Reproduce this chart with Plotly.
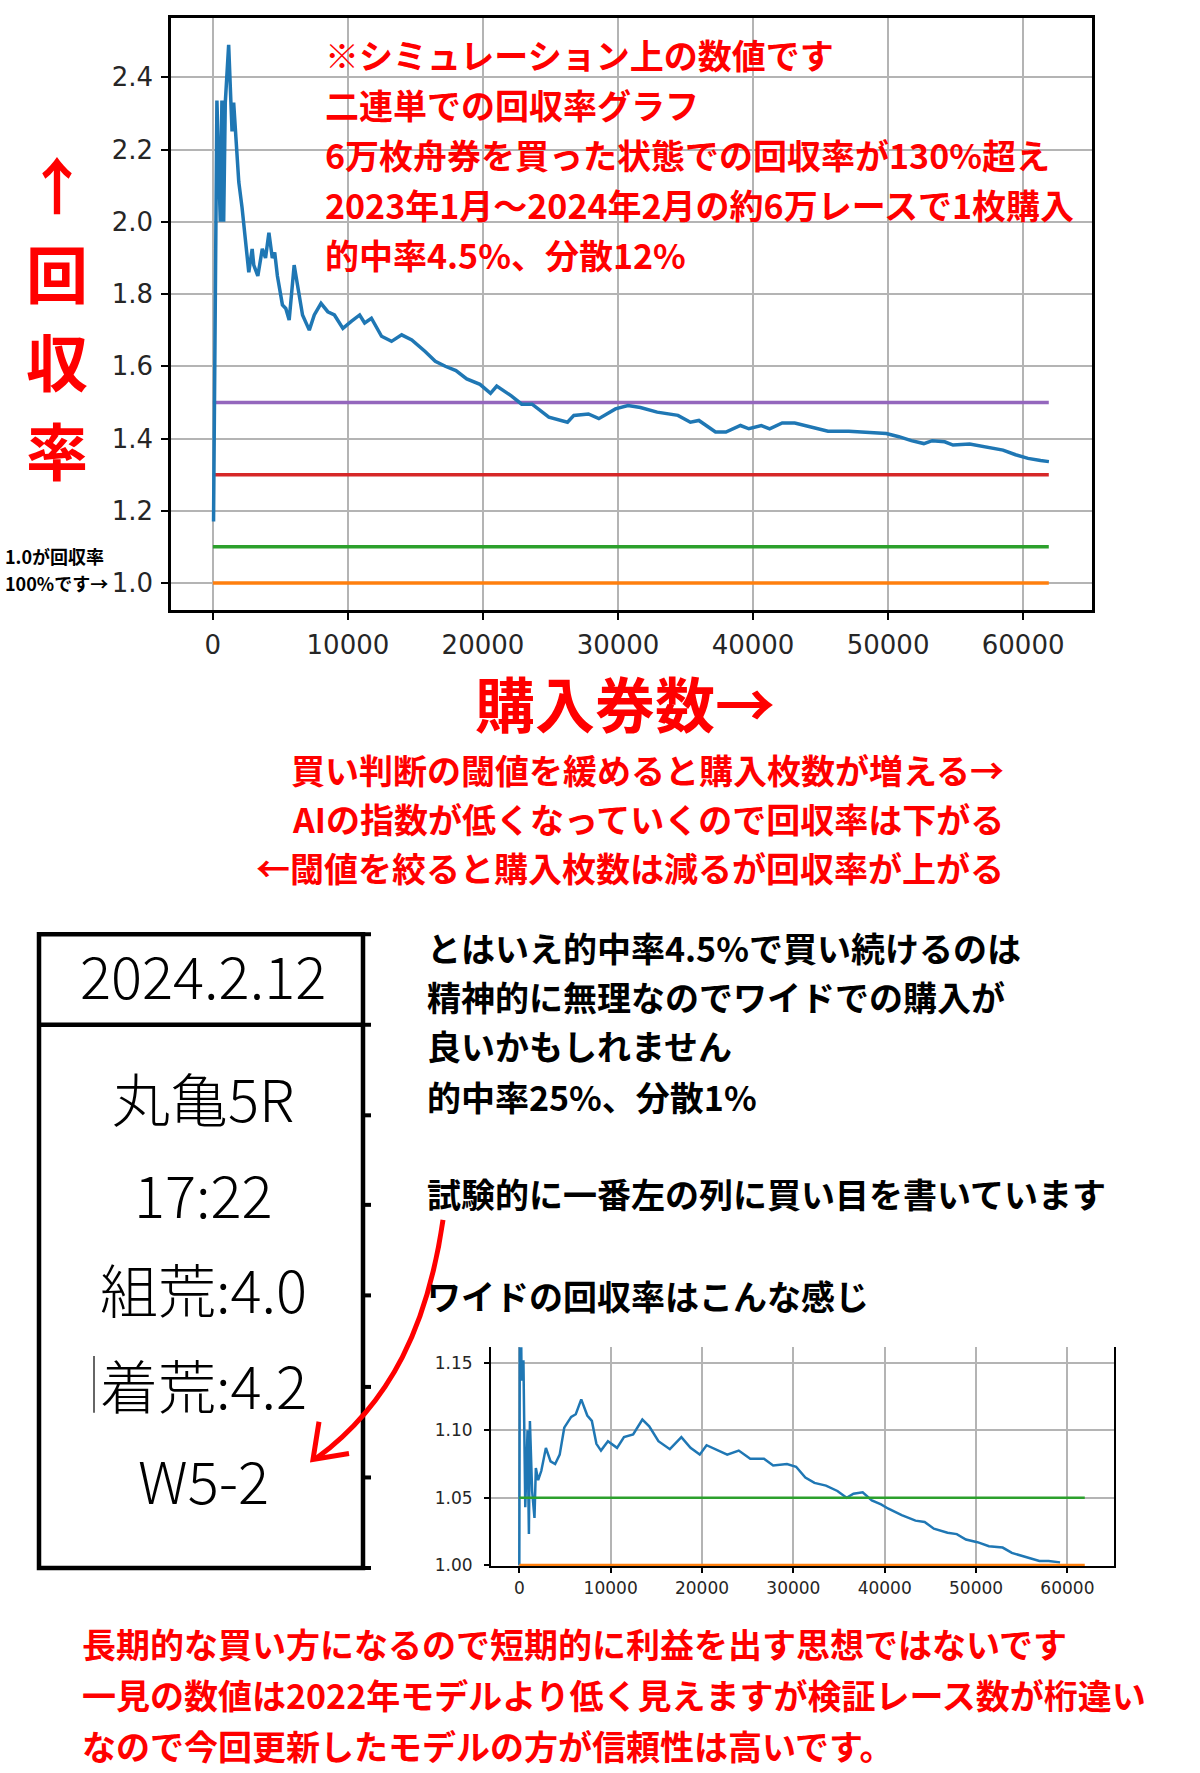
import plotly.graph_objects as go

# ---------------- data ----------------
main_x = [50, 300, 550, 670, 800, 920, 1170, 1290, 1420, 1540, 1670, 1920, 2160, 2660, 2910, 3030,
          3330, 3660, 3900, 4150, 4400, 4580, 4780, 5150, 5400, 5650, 6020, 6270, 6640, 7140, 7510,
          8010, 8510, 9000, 9630, 10250, 10870, 11240, 11740, 12490, 13230, 13980, 14730, 15720,
          16470, 17210, 18000, 18800, 19780, 20560, 21020, 22100, 22870, 23640, 24880, 26260,
          26730, 27810, 28580, 29810, 30740, 31660, 32900, 34440, 35360, 35990, 37220, 37990,
          39070, 39690, 40610, 41230, 42160, 43090, 44320, 45550, 47100, 48330, 49870, 50800,
          51720, 52650, 53270, 54190, 54810, 56040, 57590, 58510, 59440, 60360, 61290, 61910]
main_y = [1.17, 2.336, 2.0, 2.336, 2.0, 2.33, 2.49, 2.345, 2.25, 2.33, 2.25, 2.11, 2.04, 1.86, 1.925,
          1.88, 1.85, 1.925, 1.90, 1.97, 1.90, 1.915, 1.85, 1.77, 1.76, 1.728, 1.88, 1.824, 1.742,
          1.70, 1.742, 1.774, 1.751, 1.742, 1.705, 1.724, 1.742, 1.72, 1.733, 1.683, 1.669, 1.687,
          1.673, 1.641, 1.614, 1.60, 1.588, 1.565, 1.55, 1.525, 1.545, 1.518, 1.495, 1.495, 1.459,
          1.445, 1.464, 1.468, 1.455, 1.482, 1.491, 1.486, 1.473, 1.464, 1.445, 1.45, 1.418, 1.418,
          1.436, 1.427, 1.436, 1.427, 1.443, 1.443, 1.432, 1.42, 1.42, 1.418, 1.414, 1.405, 1.394,
          1.386, 1.394, 1.391, 1.382, 1.385, 1.375, 1.368, 1.355, 1.345, 1.339, 1.336]
main_ref_levels = [1.5, 1.3, 1.1, 1.0]
main_ref_colors = ["#9467bd", "#d62728", "#2ca02c", "#ff7f0e"]
ref_x = [0, 61900]

wide_x = [0, 80, 250, 450, 650, 900, 1050, 1160, 1400, 1660, 1810, 2060, 2410, 2910, 3420, 3920,
          4420, 4920, 5680, 6180, 6780, 7440, 7940, 8440, 8940, 9700, 10700, 11460, 12460, 13470,
          14220, 15230, 16480, 17740, 18740, 19750, 20500, 21760, 22760, 24020, 25280, 26780,
          27790, 29300, 30300, 31310, 32310, 33570, 34820, 35830, 36580, 37590, 38590, 39600,
          40350, 41860, 43370, 44370, 45380, 46880, 47890, 48890, 50150, 51410, 52910, 53920,
          54920, 55930, 56930, 57940, 59200]
wide_y = [1.0, 1.25, 1.137, 1.152, 1.043, 1.10, 1.023, 1.107, 1.055, 1.035, 1.072, 1.063, 1.07,
          1.087, 1.077, 1.075, 1.082, 1.102, 1.11, 1.112, 1.123, 1.111, 1.107, 1.09, 1.085, 1.092,
          1.087, 1.095, 1.097, 1.108, 1.103, 1.092, 1.086, 1.095, 1.087, 1.082, 1.089, 1.085, 1.082,
          1.085, 1.079, 1.079, 1.074, 1.075, 1.073, 1.065, 1.061, 1.059, 1.055, 1.05, 1.053, 1.054,
          1.048, 1.045, 1.042, 1.037, 1.033, 1.032, 1.027, 1.024, 1.023, 1.019, 1.017, 1.014,
          1.013, 1.009, 1.007, 1.005, 1.003, 1.003, 1.002]
wide_ref_levels = [1.05, 1.0]
wide_ref_colors = ["#2ca02c", "#ff7f0e"]

x_tick_vals = [0, 10000, 20000, 30000, 40000, 50000, 60000]
x_tick_text = ["0", "10000", "20000", "30000", "40000", "50000", "60000"]
main_y_ticks = [1.0, 1.2, 1.4, 1.6, 1.8, 2.0, 2.2, 2.4]
main_y_text = ["1.0", "1.2", "1.4", "1.6", "1.8", "2.0", "2.2", "2.4"]
wide_y_ticks = [1.00, 1.05, 1.10, 1.15]
wide_y_text = ["1.00", "1.05", "1.10", "1.15"]

chart_notes = ["※シミュレーション上の数値です", "二連単での回収率グラフ",
               "6万枚舟券を買った状態での回収率が130%超え",
               "2023年1月～2024年2月の約6万レースで1枚購入", "的中率4.5%、分散12%"]
y_title_chars = ["↑", "回", "収", "率"]
y_note = ["1.0が回収率", "100%です→"]
x_title = "購入券数→"
threshold_notes = ["買い判断の閾値を緩めると購入枚数が増える→", "AIの指数が低くなっていくので回収率は下がる",
                   "←閾値を絞ると購入枚数は減るが回収率が上がる"]
table_header = "2024.2.12"
table_rows = ["丸亀5R", "17:22", "組荒:4.0", "着荒:4.2", "W5-2"]
side_notes = ["とはいえ的中率4.5%で買い続けるのは", "精神的に無理なのでワイドでの購入が", "良いかもしれません",
              "的中率25%、分散1%", "試験的に一番左の列に買い目を書いています", "ワイドの回収率はこんな感じ"]
bottom_notes = ["長期的な買い方になるので短期的に利益を出す思想ではないです",
                "一見の数値は2022年モデルより低く見えますが検証レース数が桁違い",
                "なので今回更新したモデルの方が信頼性は高いです。"]

# ---------------- layout helpers ----------------
W, H = 1200, 1773
def fx(px):
    return px / W
def fy(py):
    return 1 - py / H

RED = "#ff0000"
JP = "Noto Sans CJK JP"
TICKFONT = "DejaVu Sans"

fig = go.Figure()

# main chart traces
for lvl, col in zip(main_ref_levels, main_ref_colors):
    fig.add_trace(go.Scatter(x=ref_x, y=[lvl, lvl], mode="lines",
                             line=dict(color=col, width=3.5), xaxis="x", yaxis="y"))
fig.add_trace(go.Scatter(x=main_x, y=main_y, mode="lines",
                         line=dict(color="#1f77b4", width=3.5), xaxis="x", yaxis="y"))

# wide chart traces
fig.add_trace(go.Scatter(x=wide_x, y=wide_y, mode="lines",
                         line=dict(color="#1f77b4", width=2.5), xaxis="x2", yaxis="y2"))
for lvl, col in zip(wide_ref_levels, wide_ref_colors):
    fig.add_trace(go.Scatter(x=ref_x, y=[lvl, lvl], mode="lines",
                             line=dict(color=col, width=2.5), xaxis="x2", yaxis="y2"))

ann = []
def add_text(text, px, py, size, color="black", xanchor="left", weight=700, family=JP):
    ann.append(dict(text=text, x=fx(px), y=fy(py), xref="paper", yref="paper",
                    xanchor=xanchor, yanchor="middle", showarrow=False,
                    font=dict(family=family, size=size, color=color, weight=weight)))

for i, t in enumerate(chart_notes):
    add_text(t, 323, 55 + i * 50.3, 34, RED)
for i, t in enumerate(y_title_chars):
    add_text(t, 57, 184 + i * 89, 62, RED, xanchor="center")
for i, t in enumerate(y_note):
    add_text(t, 3, 559 + i * 27, 18, "black")
add_text(x_title, 625, 705, 60, RED, xanchor="center")
for i, t in enumerate(threshold_notes):
    add_text(t, 1006, 773 + i * 49.5, 34, RED, xanchor="right")
add_text(table_header, 203, 979, 58, "black", xanchor="center", weight=300)
for i, t in enumerate(table_rows):
    add_text(t, 203, 1103 + i * 96, 58, "black", xanchor="center", weight=300)
side_y = [952, 1002, 1051, 1102, 1200, 1302]
for t, yy in zip(side_notes, side_y):
    add_text(t, 425, yy, 34, "black")
for i, t in enumerate(bottom_notes):
    add_text(t, 80, 1652 + i * 51, 34, RED)

shapes = []
# table
T_TOP, T_DIV, T_BOT = 939, 1030, 1576
shapes.append(dict(type="rect", xref="paper", yref="paper", x0=fx(39), x1=fx(363), y0=fy(T_TOP), y1=fy(T_BOT),
                   line=dict(color="black", width=4.5)))
shapes.append(dict(type="line", xref="paper", yref="paper", x0=fx(39), x1=fx(363), y0=fy(T_DIV), y1=fy(T_DIV),
                   line=dict(color="black", width=4.5)))
for yy in [939, 1030, 1121, 1211, 1302, 1394, 1485, 1576]:
    shapes.append(dict(type="line", xref="paper", yref="paper", x0=fx(363), x1=fx(371), y0=fy(yy), y1=fy(yy),
                       line=dict(color="black", width=4)))
shapes.append(dict(type="line", xref="paper", yref="paper", x0=fx(94), x1=fx(94), y0=fy(1363), y1=fy(1420),
                   line=dict(color="#333333", width=1.5)))
# red arrow
def P(px, py):
    return f"{fx(px):.5f},{fy(py):.5f}"
shapes.append(dict(type="path", xref="paper", yref="paper",
                   path=f"M {P(443,1226)} C {P(428,1330)} {P(392,1410)} {P(316,1466)}",
                   line=dict(color=RED, width=5)))
shapes.append(dict(type="path", xref="paper", yref="paper",
                   path=f"M {P(319,1429)} L {P(313,1467)} L {P(349,1461)}",
                   line=dict(color=RED, width=5)))

axis_common = dict(showgrid=True, gridcolor="#b4b4b4", zeroline=False, showline=True,
                   linecolor="black", ticks="outside", tickcolor="black")

fig.update_layout(
    width=W, height=H, margin=dict(l=0, r=0, t=0, b=0),
    paper_bgcolor="white", plot_bgcolor="white", showlegend=False,
    font=dict(family=JP),
    xaxis=dict(domain=[fx(171), fx(1092)], range=[-3100, 65100], anchor="y",
               tickvals=x_tick_vals, ticktext=x_tick_text, mirror=True, linewidth=2.5,
               gridwidth=2, ticklen=7, tickwidth=2, ticklabelstandoff=3,
               tickfont=dict(family=TICKFONT, size=26, color="#262626"), **axis_common),
    yaxis=dict(domain=[fy(613), fy(18)], range=[0.9255, 2.5645], anchor="x",
               tickvals=main_y_ticks, ticktext=main_y_text, mirror=True, linewidth=2.5,
               gridwidth=2, ticklen=7, tickwidth=2, ticklabelstandoff=3,
               tickfont=dict(family=TICKFONT, size=26, color="#262626"), **axis_common),
    xaxis2=dict(domain=[fx(491), fx(1114)], range=[-3100, 65100], anchor="y2",
                tickvals=x_tick_vals, ticktext=x_tick_text, mirror=False, linewidth=2,
                gridwidth=1.5, ticklen=5, tickwidth=1.5, ticklabelstandoff=1,
                tickfont=dict(family=TICKFONT, size=17, color="#262626"), **axis_common),
    yaxis2=dict(domain=[fy(1574), fy(1354)], range=[0.9993, 1.1618], anchor="x2",
                tickvals=wide_y_ticks, ticktext=wide_y_text, mirror=True, linewidth=2,
                gridwidth=1.5, ticklen=5, tickwidth=1.5, ticklabelstandoff=8,
                tickfont=dict(family=TICKFONT, size=17, color="#262626"), **axis_common),
    annotations=ann, shapes=shapes,
)

# remove the browser's default 8px body margin so the figure sits at the window's corner
fig.write_html("out.html", config={"displayModeBar": False},
               post_script="document.body.style.margin='0';")
